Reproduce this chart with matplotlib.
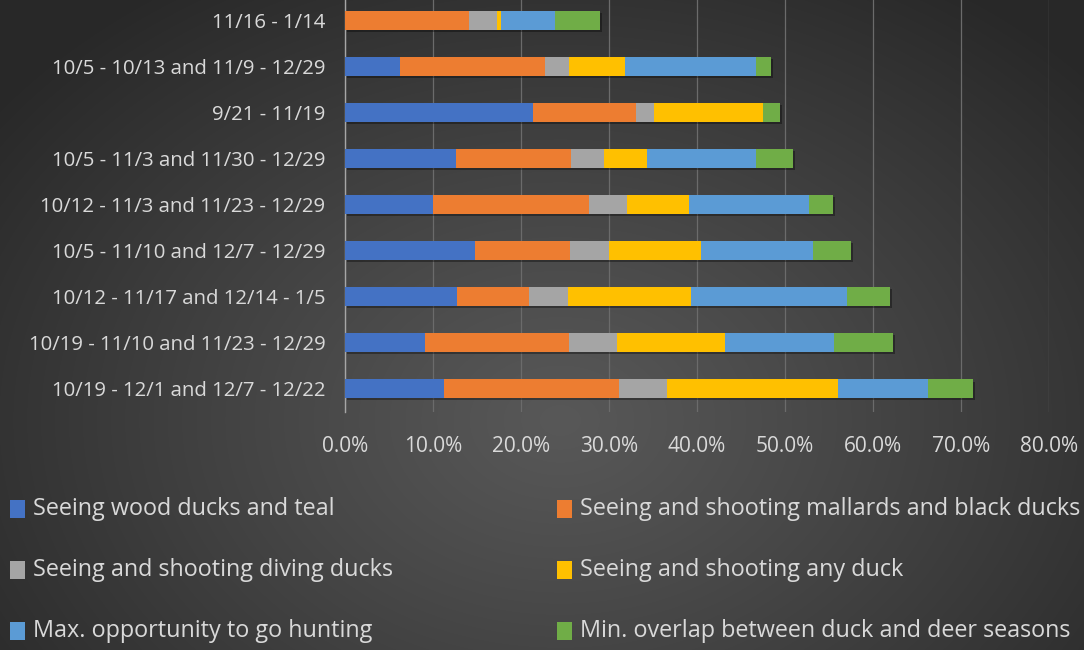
import numpy as np
import matplotlib
matplotlib.use("Agg")
import matplotlib.pyplot as plt
from matplotlib.patches import Rectangle
from matplotlib import patheffects as pe

plt.rcParams['font.family'] = ['Open Sans', 'DejaVu Sans']

categories = [
    "10/19 - 12/1 and 12/7 - 12/22",
    "10/19 - 11/10 and 11/23 - 12/29",
    "10/12 - 11/17 and 12/14 - 1/5",
    "10/5 - 11/10 and 12/7 - 12/29",
    "10/12 - 11/3 and 11/23 - 12/29",
    "10/5 - 11/3 and 11/30 - 12/29",
    "9/21 - 11/19",
    "10/5 - 10/13 and 11/9 - 12/29",
    "11/16 - 1/14",
]
series_names = [
    "Seeing wood ducks and teal",
    "Seeing and shooting mallards and black ducks",
    "Seeing and shooting diving ducks",
    "Seeing and shooting any duck",
    "Max. opportunity to go hunting",
    "Min. overlap between duck and deer seasons",
]
wood_teal    = [11.25, 9.1, 12.7, 14.8, 10.0, 12.65, 21.4, 6.25, 0.0]
mallards     = [19.85, 16.3, 8.2, 10.8, 17.7, 13.05, 11.7, 16.45, 14.1]
diving       = [5.5, 5.5, 4.4, 4.4, 4.4, 3.7, 2.0, 2.7, 3.2]
any_duck     = [19.4, 12.3, 14.0, 10.45, 7.0, 4.9, 12.4, 6.4, 0.4]
max_opp      = [10.3, 12.4, 17.8, 12.75, 13.6, 12.4, 0.0, 14.9, 6.2]
min_overlap  = [5.1, 6.7, 4.8, 4.3, 2.7, 4.2, 1.9, 1.7, 5.1]
series = [wood_teal, mallards, diving, any_duck, max_opp, min_overlap]
colors = ["#4472C4", "#ED7D31", "#A5A5A5", "#FFC000", "#5B9BD5", "#70AD47"]
xticks = [0, 10, 20, 30, 40, 50, 60, 70, 80]

W, H = 1084, 650
fig = plt.figure(figsize=(W / 100, H / 100), dpi=100)

# radial gradient background
bg = fig.add_axes([0, 0, 1, 1], zorder=-10)
yy, xx = np.mgrid[0:H, 0:W]
cx, cy = 560, 420
r = np.sqrt(((xx - cx) / 700.0) ** 2 + ((yy - cy) / 520.0) ** 2)
r = np.clip(r, 0, 1)
val = 0.345 - (0.345 - 0.16) * r ** 1.1
img = np.dstack([val, val, val])
bg.imshow(img, aspect='auto', extent=[0, 1, 0, 1], origin='upper')
bg.axis('off')

left_px, right_px = 345, 1049
top_px, bot_px = -3, 412
ax = fig.add_axes([left_px / W, 1 - bot_px / H, (right_px - left_px) / W, (bot_px - top_px) / H])
ax.set_facecolor('none')

y = np.arange(len(categories))
left = np.zeros(len(categories))
shadow = [pe.withSimplePatchShadow(offset=(1.5, -1.5), shadow_rgbFace='black', alpha=0.35)]
for vals, c in zip(series, colors):
    v = np.array(vals)
    ax.barh(y, v, left=left, height=0.41, color=c, edgecolor='none', zorder=3,
            path_effects=shadow)
    left = left + v

ax.set_xlim(0, 80)
ax.set_ylim(-0.5, len(categories) - 0.5)
ax.set_xticks(xticks)
ax.set_xticklabels([f"{t:.1f}%" for t in xticks])
ax.set_yticks(y)
ax.set_yticklabels(categories)
ax.xaxis.grid(True, color='#6b6b6b', linewidth=0.9, zorder=0)
ax.set_axisbelow(True)
for s in ['top', 'right', 'bottom']:
    ax.spines[s].set_visible(False)
ax.spines['left'].set_color('#a6a6a6')
ax.spines['left'].set_linewidth(1.0)
ax.tick_params(axis='both', length=0, colors='#d9d9d9')
ax.tick_params(axis='x', pad=17, labelsize=15)
ax.tick_params(axis='y', pad=14, labelsize=14.7)

# legend (manual placement), font size fitted to the reference text widths
rows_y = [509, 570, 631]
col_x = [10, 557]
target_w = {0: 307, 1: 500}
renderer = fig.canvas.get_renderer()
base = 20.0
scales = []
for idx, tw in target_w.items():
    t = fig.text(0, 0, series_names[idx], fontsize=base)
    w = t.get_window_extent(renderer).width
    t.remove()
    scales.append(tw / w)
leg_fs = base * min(scales)

for i, (name, c) in enumerate(zip(series_names, colors)):
    row, col = i // 2, i % 2
    mx, my = col_x[col], rows_y[row]
    fig.patches.append(Rectangle((mx / W, 1 - (my + 9) / H), 15 / W, 18 / H,
                                 transform=fig.transFigure, facecolor=c, edgecolor='none'))
    fig.text((mx + 23) / W, 1 - my / H, name, color='#d9d9d9', fontsize=leg_fs,
             va='center', ha='left')

fig.savefig("out.png", dpi=100)
